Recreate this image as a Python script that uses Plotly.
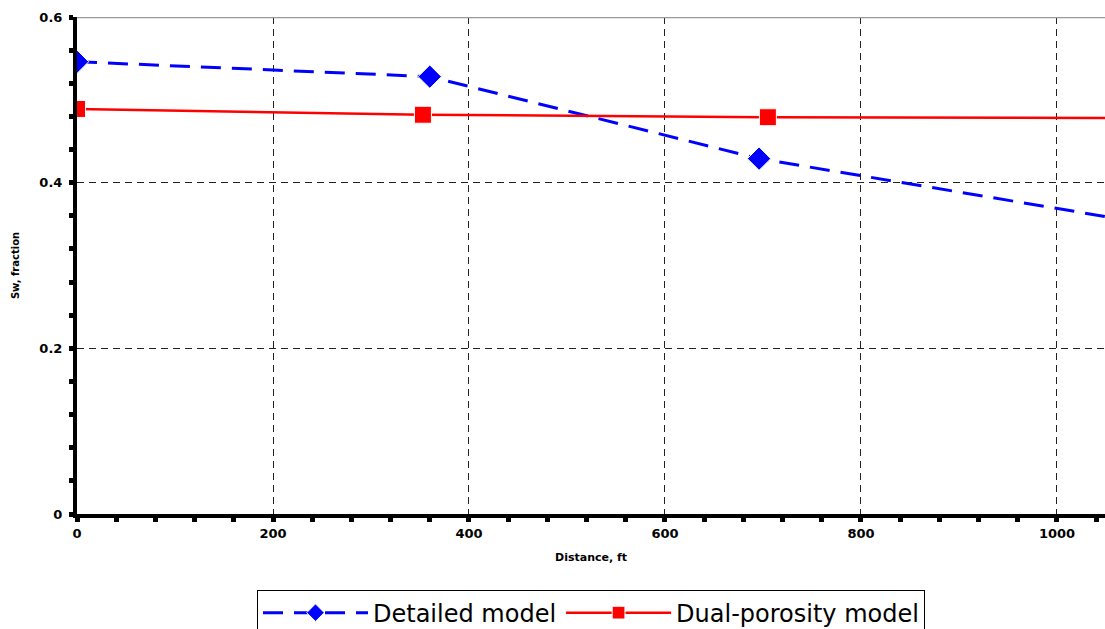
import plotly.graph_objects as go

detailed_x = [0, 360, 696, 1060]
detailed_y = [0.546, 0.528, 0.429, 0.357]
detailed_marker = [18, 18, 18, 0]

dual_x = [0, 353, 705, 1060]
dual_y = [0.489, 0.482, 0.479, 0.478]
dual_marker = [17, 17, 17, 0]

x_ticks = [0, 200, 400, 600, 800, 1000]
y_ticks = [0, 0.2, 0.4, 0.6]
y_tick_labels = ["0", "0.2", "0.4", "0.6"]

FONT = "DejaVu Sans, Liberation Sans, Arial, sans-serif"

fig = go.Figure()
fig.add_trace(go.Scatter(
    x=detailed_x, y=detailed_y, mode="lines+markers", name="Detailed model",
    line=dict(color="#0000ff", width=3, dash="20px,11px"),
    marker=dict(symbol="diamond", size=detailed_marker, color="#0000ff", opacity=1),
))
fig.add_trace(go.Scatter(
    x=dual_x, y=dual_y, mode="lines+markers", name="Dual-porosity model",
    line=dict(color="#ff0000", width=2.5),
    marker=dict(symbol="square", size=dual_marker, color="#ff0000", opacity=1),
))

fig.add_shape(type="line", xref="paper", yref="y", x0=0, x1=1, y0=0.6, y1=0.6,
              line=dict(color="#999999", width=2.5), layer="above")

fig.update_layout(
    width=1105, height=629,
    margin=dict(l=77, r=0, t=17, b=115, autoexpand=False),
    plot_bgcolor="white", paper_bgcolor="white",
    font=dict(family=FONT, color="black"),
    showlegend=True,
    legend=dict(
        orientation="h", x=0.5, xanchor="center", y=-0.152, yanchor="top",
        font=dict(family=FONT, size=24, color="black"),
        bordercolor="black", borderwidth=1, bgcolor="white",
        itemwidth=105, tracegroupgap=0,
    ),
    xaxis=dict(
        range=[0, 1049], tickvals=x_ticks, ticktext=[str(v) for v in x_ticks],
        showline=True, linecolor="black", linewidth=4,
        ticks="outside", ticklen=4, tickwidth=5, tickcolor="black",
        minor=dict(dtick=40, ticks="outside", ticklen=4, tickwidth=5, tickcolor="black", showgrid=False),
        showgrid=True, gridcolor="#222222", gridwidth=1, griddash="7px,5px",
        zeroline=False,
        tickfont=dict(family=FONT, size=13, weight="bold"),
        title=dict(text="Distance, ft", font=dict(family=FONT, size=11, weight="bold"), standoff=15),
    ),
    yaxis=dict(
        range=[0, 0.6], tickvals=y_ticks, ticktext=y_tick_labels,
        showline=True, linecolor="black", linewidth=4,
        ticks="outside", ticklen=4, tickwidth=5, tickcolor="black",
        ticklabelstandoff=4,
        minor=dict(dtick=0.04, ticks="outside", ticklen=4, tickwidth=5, tickcolor="black", showgrid=False),
        showgrid=True, gridcolor="#222222", gridwidth=1, griddash="7px,5px",
        zeroline=False,
        tickfont=dict(family=FONT, size=13, weight="bold"),
        title=dict(text="Sw, fraction", font=dict(family=FONT, size=10, weight="bold"), standoff=19),
    ),
)

fig.write_html("out.html")
